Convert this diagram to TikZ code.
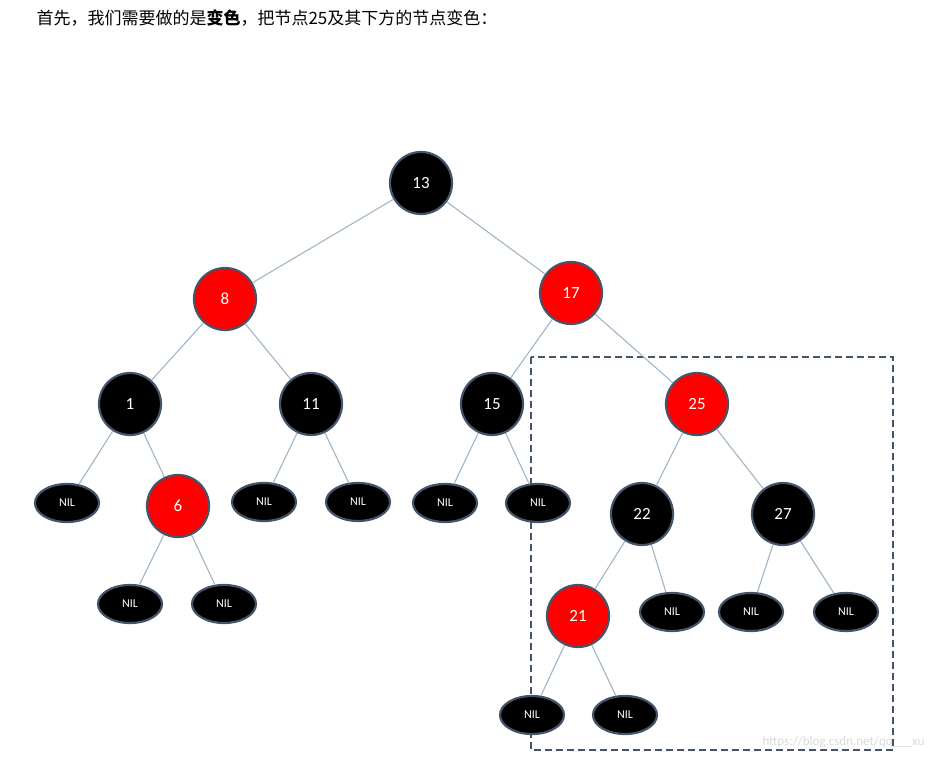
\documentclass[tikz,border=0pt]{standalone}
\usepackage{fontspec}
\setmainfont{Carlito}
\newfontfamily\cjk{Noto Sans CJK SC}
\usetikzlibrary{shapes.geometric}
\definecolor{RBRimColor}{RGB}{68,84,106}
\definecolor{RBEdgeColor}{RGB}{160,180,200}
\definecolor{RBRedColor}{RGB}{255,0,0}
\begin{document}
\begin{tikzpicture}[x=1pt,y=-1pt,
  blk/.style={circle,fill=black,draw=RBRimColor,line width=2.2pt,minimum size=62pt,inner sep=0pt,text=white,font=\fontsize{17}{17}\selectfont},
  red/.style={blk,fill=RBRedColor},
  nil/.style={ellipse,fill=black,draw=RBRimColor,line width=2.2pt,minimum width=64pt,minimum height=38pt,inner sep=0pt,text=white,font=\fontsize{12}{12}\selectfont},
  edge/.style={draw=RBEdgeColor,line width=1.1pt}]
\useasboundingbox (0,0) rectangle (934,762);
\node[anchor=west,font=\cjk\fontsize{17}{17}\selectfont] (title) at (33,18) {首先，我们需要做的是\textbf{变色}，把节点25及其下方的节点变色：};
\draw[RBRimColor,line width=2pt,dash pattern=on 7pt off 4pt] (531,357) rectangle (893,750);
% inner nodes
\node[blk] (n13) at (421,183) {13};
\node[red] (n8) at (225,299) {8};
\node[red] (n17) at (571,293) {17};
\node[blk] (n1) at (130,404) {1};
\node[blk] (n11) at (311,404) {11};
\node[blk] (n15) at (492,404) {15};
\node[red] (n25) at (697,404) {25};
\node[red] (n6) at (178,506) {6};
\node[blk] (n22) at (642,514) {22};
\node[blk] (n27) at (783,514) {27};
\node[red] (n21) at (578,616) {21};
% leaves
\foreach \name/\x/\y in {l1/67/503,l11a/264/502,l11b/358/502,l15a/445/503,l15b/538/503,
  l6a/130/604,l6b/224/604,l22/672/612,l27a/751/612,l27b/846/612,l21a/532/715,l21b/625/715}
  \node[nil] (\name) at (\x,\y) {NIL};
% edges
\foreach \a/\b in {n13/n8,n13/n17,n8/n1,n8/n11,n17/n15,n17/n25,n1/l1,n1/n6,n11/l11a,n11/l11b,
  n15/l15a,n15/l15b,n6/l6a,n6/l6b,n25/n22,n25/n27,n22/n21,n22/l22,n27/l27a,n27/l27b,n21/l21a,n21/l21b}
  \draw[edge] (\a) -- (\b);
\node[anchor=east,text=black!15,font=\fontsize{13}{13}\selectfont] (mark) at (928,742) {https://blog.csdn.net/qq\_\_\_xu};
\end{tikzpicture}
\end{document}
